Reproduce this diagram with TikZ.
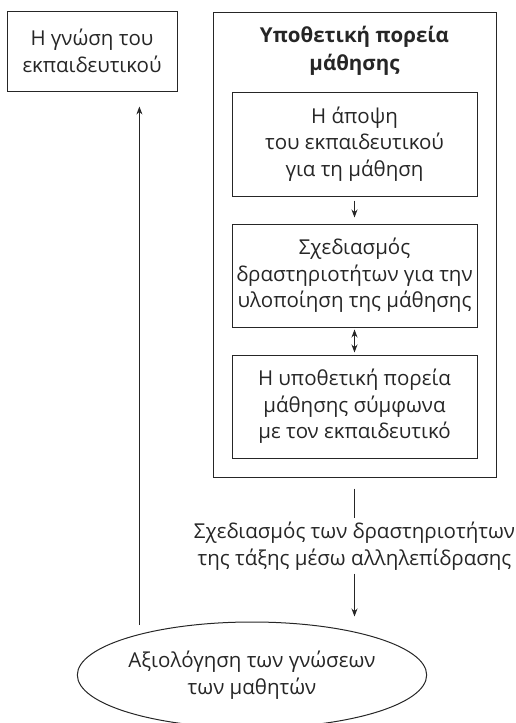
\documentclass[tikz,border=0pt]{standalone}
\usepackage{fontspec}
\setmainfont{Open Sans}
\usetikzlibrary{arrows.meta,shapes.geometric}

\tikzset{
    box/.style={draw, line width=1pt, align=center, inner sep=0pt},
    arw/.style={-{Stealth[length=8pt,width=6pt]}, line width=1pt},
    dblarw/.style={{Stealth[length=8pt,width=6pt]}-{Stealth[length=8pt,width=6pt]}, line width=1pt},
}

\begin{document}
\begin{tikzpicture}[x=1pt, y=-1pt, black!85, font=\fontsize{20.5}{26.5}\selectfont]
    \useasboundingbox (0,0) rectangle (515,723);

    \node[box, minimum width=170pt, minimum height=80pt] (know) at (92,51) {Η γνώση του\\εκπαιδευτικού};

    \node[box, minimum width=283pt, minimum height=465pt] (hlt) at (354.5,244.5) {};
    \node[align=center, font=\fontsize{20.5}{28}\selectfont\bfseries] (title) at (354.5,51) {Υποθετική πορεία\\μάθησης};

    \node[box, minimum width=245pt, minimum height=104pt] (view) at (354.5,144) {Η άποψη\\του εκπαιδευτικού\\για τη μάθηση};
    \node[box, minimum width=245pt, minimum height=103pt] (plan) at (354.5,275.5) {Σχεδιασμός\\δραστηριοτήτων για την\\υλοποίηση της μάθησης};
    \node[box, minimum width=245pt, minimum height=103pt] (traj) at (354.5,406.5) {Η υποθετική πορεία\\μάθησης σύμφωνα\\με τον εκπαιδευτικό};

    \node[align=center] (design) at (354.5,546) {Σχεδιασμός των δραστηριοτήτων\\της τάξης μέσω αλληλεπίδρασης};

    \node[ellipse, draw, line width=1pt, minimum width=328pt, minimum height=106pt, inner sep=0pt, align=center] (eval) at (252,675) {Αξιολόγηση των γνώσεων\\των μαθητών};

    \draw[arw, shorten <=4pt, shorten >=6pt] (view) -- (plan);
    \draw[dblarw, shorten <=2pt, shorten >=2pt] (plan) -- (traj);
    \draw[line width=1pt, shorten <=11pt] (hlt.south) -- (design.north);
    \draw[arw, shorten >=5pt] (design.south) -- (design.south |- eval.north);
    \draw[arw, shorten <=9pt, shorten >=15pt] (eval.160.5) -- (eval.160.5 |- know.south);
\end{tikzpicture}
\end{document}
